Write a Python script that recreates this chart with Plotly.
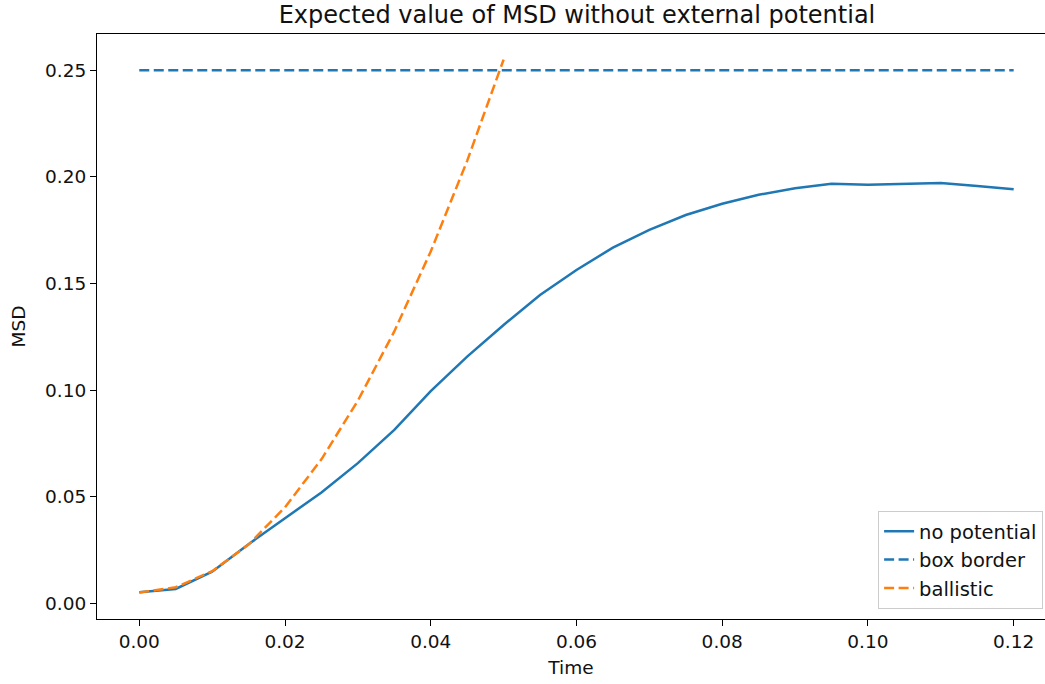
import plotly.graph_objects as go

# Sampled time points (step 0.005) and mean squared displacement without a potential
time = [0.000, 0.005, 0.010, 0.015, 0.020, 0.025, 0.030, 0.035, 0.040, 0.045,
        0.050, 0.055, 0.060, 0.065, 0.070, 0.075, 0.080, 0.085, 0.090, 0.095,
        0.100, 0.105, 0.110, 0.115, 0.120]
msd_no_potential = [0.0052, 0.0067, 0.0148, 0.0277, 0.0399, 0.0519, 0.0657, 0.0813,
                    0.0995, 0.1157, 0.1305, 0.1446, 0.1563, 0.1668, 0.1751, 0.1821,
                    0.1874, 0.1916, 0.1946, 0.1967, 0.1963, 0.1968, 0.1971, 0.1957,
                    0.1942]

# Box border level
border_time = [0.000, 0.120]
border_msd = [0.25, 0.25]

# Ballistic regime reference
ballistic_time = [0.000, 0.005, 0.010, 0.015, 0.020, 0.025, 0.030, 0.035, 0.040,
                  0.045, 0.050]
ballistic_msd = [0.0050, 0.0075, 0.0150, 0.0275, 0.0450, 0.0675, 0.0950, 0.1275,
                 0.1650, 0.2075, 0.2550]

x_ticks = [0.00, 0.02, 0.04, 0.06, 0.08, 0.10, 0.12]
y_ticks = [0.00, 0.05, 0.10, 0.15, 0.20, 0.25]

BLUE = "#1f77b4"
ORANGE = "#ff7f0e"
FONT = "DejaVu Sans"

fig = go.Figure()
fig.add_trace(go.Scatter(x=time, y=msd_no_potential, mode="lines", name="no potential",
                         line=dict(color=BLUE, width=2.5)))
fig.add_trace(go.Scatter(x=border_time, y=border_msd, mode="lines", name="box border",
                         line=dict(color=BLUE, width=2.5, dash="10px,4.5px")))
fig.add_trace(go.Scatter(x=ballistic_time, y=ballistic_msd, mode="lines", name="ballistic",
                         line=dict(color=ORANGE, width=2.5, dash="10px,4.5px")))

axis_common = dict(
    showgrid=False, zeroline=False, showline=True, linecolor="black", linewidth=1.1,
    ticks="outside", ticklen=6, tickwidth=1.1, tickcolor="black",
    tickfont=dict(family=FONT, size=18.5, color="#111111"),
)

fig.update_layout(
    width=1045, height=684,
    margin=dict(l=97, r=0, t=34, b=65),
    paper_bgcolor="white", plot_bgcolor="white",
    font=dict(family=FONT, color="#111111"),
    title=dict(text="Expected value of MSD without external potential",
               font=dict(family=FONT, size=24, color="#111111"),
               x=0.5063, xref="paper", xanchor="center",
               y=1 - 14.5 / 684, yref="container", yanchor="middle"),
    xaxis=dict(range=[-0.0058, 0.1243], tickvals=x_ticks,
               ticktext=[f"{v:.2f}" for v in x_ticks], mirror=True,
               title=dict(text="Time", font=dict(family=FONT, size=18.5), standoff=9),
               **axis_common),
    yaxis=dict(range=[-0.0074, 0.2670], tickvals=y_ticks,
               ticktext=[f"{v:.2f}" for v in y_ticks], mirror=False,
               title=dict(text="MSD", font=dict(family=FONT, size=18.5), standoff=14),
               **axis_common),
    legend=dict(x=0.998, y=0.017, xanchor="right", yanchor="bottom",
                bgcolor="rgba(255,255,255,0.8)", bordercolor="#cccccc", borderwidth=1,
                font=dict(family=FONT, size=19.5, color="#111111"),
                tracegroupgap=0),
    showlegend=True,
)

fig.write_html("out.html")
